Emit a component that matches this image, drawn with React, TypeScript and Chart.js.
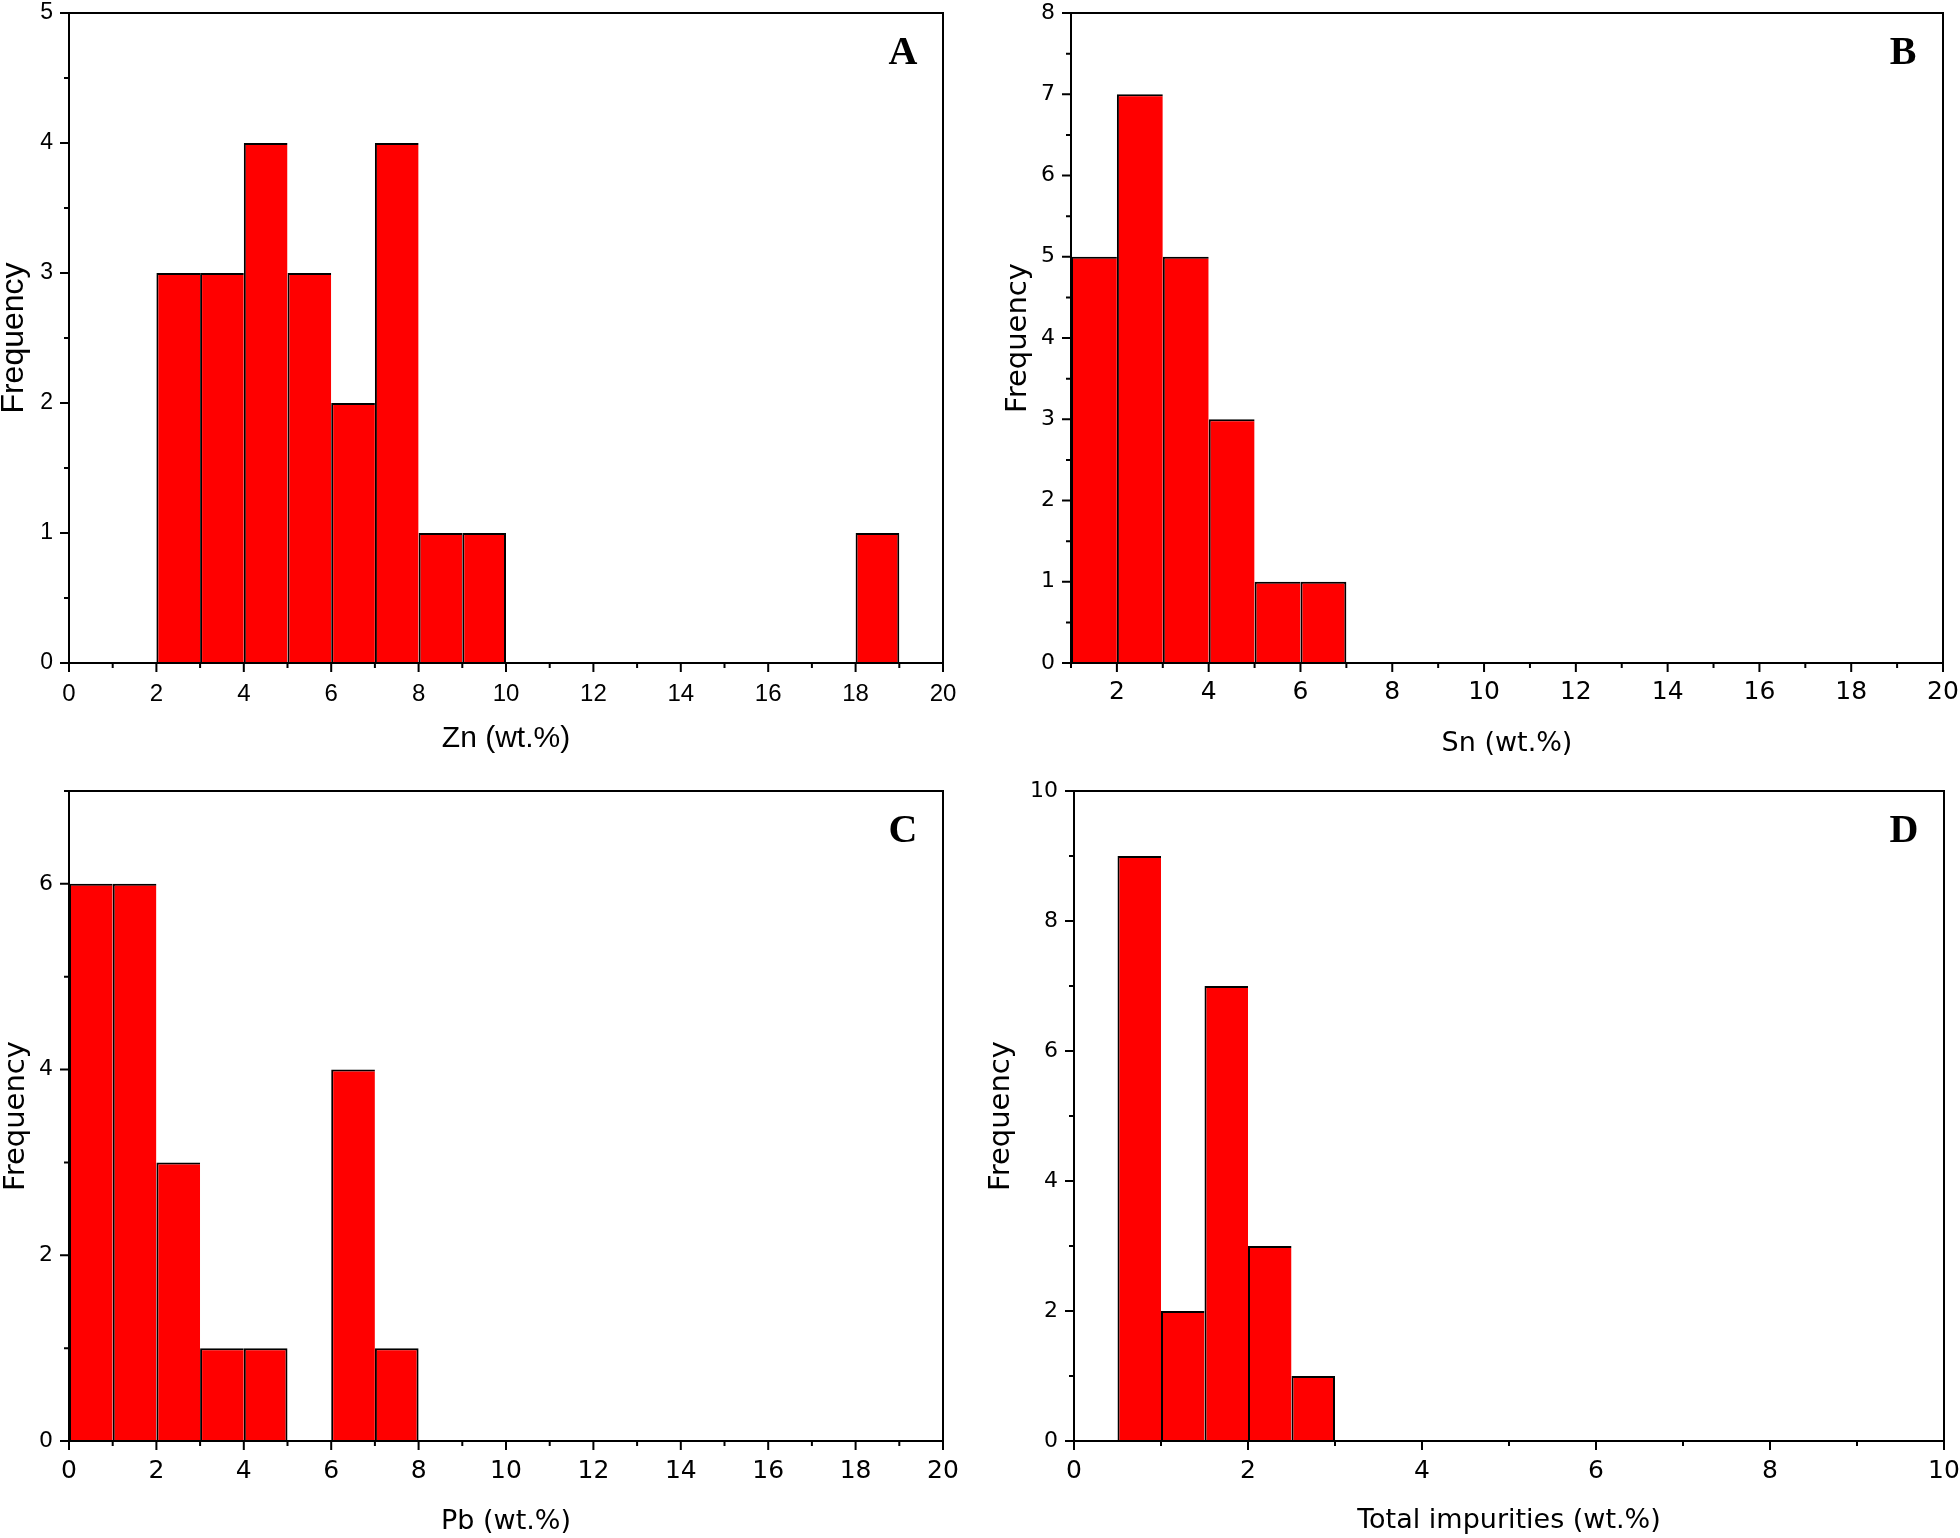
import React, { useEffect, useRef } from 'react';
import { Chart, registerables } from 'chart.js';

Chart.register(...registerables);

// ---------- data ----------
const znBinStarts = [2, 3, 4, 5, 6, 7, 8, 9, 18];
const znCounts = [3, 3, 4, 3, 2, 4, 1, 1, 1];
const znBinWidth = 1;

const snBinStarts = [1, 2, 3, 4, 5, 6];
const snCounts = [5, 7, 5, 3, 1, 1];
const snBinWidth = 1;

const pbBinStarts = [0, 1, 2, 3, 4, 6, 7];
const pbCounts = [6, 6, 3, 1, 1, 4, 1];
const pbBinWidth = 1;

const totalBinStarts = [0.5, 1, 1.5, 2, 2.5];
const totalCounts = [9, 2, 7, 3, 1];
const totalBinWidth = 0.5;

const panelLetters = ['A', 'B', 'C', 'D'];
const xTitles = ['Zn (wt.%)', 'Sn (wt.%)', 'Pb (wt.%)', 'Total impurities (wt.%)'];
const yTitle = 'Frequency';

// axis ranges: [min, max, minorStep, majorStep]
const xRanges = [
  [0, 20, 1, 2],
  [1, 20, 1, 2],
  [0, 20, 1, 2],
  [0, 10, 1, 2],
];
const yRanges = [
  [0, 5, 0.5, 1],
  [0, 8, 0.5, 1],
  [0, 7, 1, 2],
  [0, 10, 1, 2],
];

// ---------- layout / style ----------
const ARIAL = '"Liberation Sans", Arial, sans-serif';
const GOTHIC = '"DejaVu Sans", sans-serif';

const panelLayouts = [
  { left: 0, top: 0, w: 980, h: 770, padTop: 13, padRight: 37, yW: 69, xH: 107,
    font: ARIAL, xTick: 24, yTick: 23, xTitleSize: 30, yTitleSize: 32, xTitlePad: 16, yTitlePad: -2, xTickPad: 17 },
  { left: 980, top: 0, w: 980, h: 770, padTop: 13, padRight: 17, yW: 91, xH: 107,
    font: GOTHIC, xTick: 25, yTick: 22, xTitleSize: 27, yTitleSize: 29, xTitlePad: 13, yTitlePad: 24, xTickPad: 14 },
  { left: 0, top: 770, w: 980, h: 768, padTop: 21, padRight: 37, yW: 69, xH: 97,
    font: GOTHIC, xTick: 25, yTick: 22, xTitleSize: 27, yTitleSize: 29, xTitlePad: 3, yTitlePad: 2, xTickPad: 15 },
  { left: 980, top: 770, w: 980, h: 768, padTop: 21, padRight: 16, yW: 94, xH: 97,
    font: GOTHIC, xTick: 25, yTick: 22, xTitleSize: 27, yTitleSize: 29, xTitlePad: 3.5, yTitlePad: 7, xTickPad: 15 },
];

const panelData = [
  { starts: znBinStarts, counts: znCounts, width: znBinWidth },
  { starts: snBinStarts, counts: snCounts, width: snBinWidth },
  { starts: pbBinStarts, counts: pbCounts, width: pbBinWidth },
  { starts: totalBinStarts, counts: totalCounts, width: totalBinWidth },
];

function isMajor(v: number, step: number) {
  const r = v / step;
  return Math.abs(r - Math.round(r)) < 1e-6;
}

const decorPlugin = {
  id: 'histDecor',
  afterDatasetsDraw(chart: any, _args: any, opts: any) {
    const { ctx, chartArea } = chart;
    const { left, top, right, bottom } = chartArea;
    const xs = chart.scales.x;
    const ys = chart.scales.y;
    ctx.save();
    ctx.strokeStyle = '#000';
    ctx.lineWidth = 2;
    ctx.strokeRect(left, top, right - left, bottom - top);
    ctx.beginPath();
    xs.ticks.forEach((t: any) => {
      const p = xs.getPixelForValue(t.value);
      const len = isMajor(t.value, opts.xMajor) ? 9 : 5;
      ctx.moveTo(p, bottom);
      ctx.lineTo(p, bottom + len);
    });
    ys.ticks.forEach((t: any) => {
      const p = ys.getPixelForValue(t.value);
      const len = isMajor(t.value, opts.yMajor) ? 9 : 5;
      ctx.moveTo(left, p);
      ctx.lineTo(left - len, p);
    });
    ctx.stroke();
    ctx.font = 'bold 40px "Liberation Serif", "Times New Roman", serif';
    ctx.fillStyle = '#000';
    ctx.textAlign = 'center';
    ctx.textBaseline = 'middle';
    ctx.fillText(opts.letter, right - 40, top + 41);
    ctx.restore();
  },
};

function Panel({ idx }: { idx: number }) {
  const ref = useRef<HTMLCanvasElement | null>(null);
  useEffect(() => {
    if (!ref.current) return;
    const L = panelLayouts[idx];
    const D = panelData[idx];
    const [xMin, xMax, xMinor, xMajor] = xRanges[idx];
    const [yMin, yMax, yMinor, yMajor] = yRanges[idx];
    const pts = D.starts.map((s, i) => ({ x: s + D.width / 2, y: D.counts[i] }));
    const chart = new Chart(ref.current, {
      type: 'bar',
      data: {
        datasets: [
          {
            data: pts as any,
            backgroundColor: '#FF0000',
            borderColor: '#000000',
            borderWidth: (c: any) => {
              const i = c.dataIndex;
              const nextEmpty =
                i === D.starts.length - 1 || D.starts[i + 1] - D.starts[i] > D.width + 1e-9;
              return { top: 2, left: 2, right: nextEmpty ? 2 : 0, bottom: 0 } as any;
            },
            barPercentage: 1,
            categoryPercentage: 1,
            inflateAmount: 0,
          } as any,
        ],
      },
      options: {
        responsive: false,
        animation: false,
        layout: { padding: { top: L.padTop, right: L.padRight, left: 0, bottom: 0 } },
        plugins: {
          legend: { display: false },
          tooltip: { enabled: false },
          histDecor: { letter: panelLetters[idx], xMajor, yMajor },
        } as any,
        scales: {
          x: {
            type: 'linear',
            min: xMin,
            max: xMax,
            offset: false,
            grid: { display: false, drawTicks: false, offset: false },
            border: { display: false },
            ticks: {
              stepSize: xMinor,
              autoSkip: false,
              maxRotation: 0,
              padding: L.xTickPad,
              color: '#000',
              font: { family: L.font, size: L.xTick },
              callback: (v: any) => (isMajor(Number(v), xMajor) ? String(v) : ''),
            },
            title: {
              display: true,
              text: xTitles[idx],
              color: '#000',
              font: { family: L.font, size: L.xTitleSize, lineHeight: 1 },
              padding: { top: 0, bottom: L.xTitlePad },
            },
            afterFit: (s: any) => {
              s.height = L.xH;
              s.paddingLeft = 0;
              s.paddingRight = 0;
            },
          },
          y: {
            type: 'linear',
            min: yMin,
            max: yMax,
            grid: { display: false, drawTicks: false },
            border: { display: false },
            ticks: {
              stepSize: yMinor,
              autoSkip: false,
              padding: 16,
              color: '#000',
              font: { family: L.font, size: L.yTick },
              callback: (v: any) => (isMajor(Number(v), yMajor) ? String(v) : ''),
            },
            title: {
              display: true,
              text: yTitle,
              color: '#000',
              font: { family: L.font, size: L.yTitleSize, lineHeight: 1 },
              padding: { top: L.yTitlePad, bottom: 0 },
            },
            afterFit: (s: any) => {
              s.width = L.yW;
              s.paddingTop = 0;
              s.paddingBottom = 0;
            },
          },
        } as any,
      },
      plugins: [decorPlugin as any],
    });
    return () => chart.destroy();
  }, [idx]);
  const L = panelLayouts[idx];
  return (
    <canvas
      ref={ref}
      width={L.w}
      height={L.h}
      style={{ position: 'absolute', left: L.left, top: L.top, width: L.w, height: L.h }}
    />
  );
}

export default function App() {
  return (
    <div style={{ position: 'absolute', left: 0, top: 0, width: 1960, height: 1538, background: '#fff' }}>
      {[0, 1, 2, 3].map((i) => (
        <Panel key={i} idx={i} />
      ))}
    </div>
  );
}
